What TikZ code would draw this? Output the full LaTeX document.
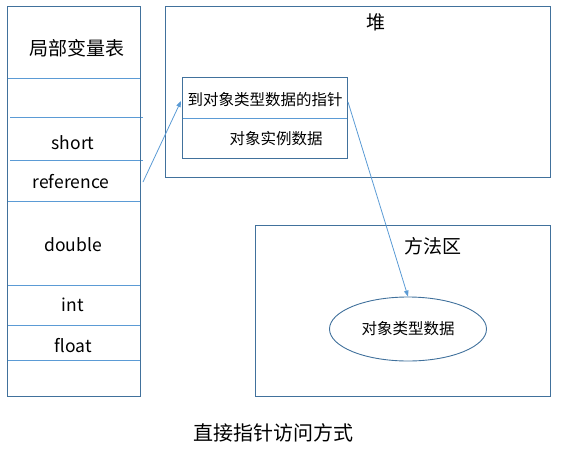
\documentclass[tikz,border=0pt]{standalone}
\usepackage{fontspec}
\setmainfont{Noto Sans CJK SC}
\usetikzlibrary{arrows.meta,shapes.geometric}
\definecolor{frame}{HTML}{41719C}
\definecolor{divline}{HTML}{5B9BD5}
\tikzset{
  box/.style={draw=frame, line width=0.9pt},
  div/.style={draw=divline, line width=0.8pt},
  lbl/.style={inner sep=0pt, text=black, font=\fontsize{17.5}{19}\selectfont},
  big/.style={inner sep=0pt, text=black, font=\fontsize{19}{21}\selectfont},
  small/.style={inner sep=0pt, text=black, font=\fontsize{15.5}{17}\selectfont},
  conn/.style={draw=divline, line width=0.8pt, -{Triangle[length=6pt,width=4.5pt]}},
}
\begin{document}
\begin{tikzpicture}[x=1pt,y=-1pt]
\useasboundingbox (0,0) rectangle (561,450);
% local variable table
\draw[div] (7,78) -- (140,78);
\draw[div] (10,117) -- (143,117);
\draw[div] (10,160) -- (143,160);
\draw[div] (7,201) -- (140,201);
\draw[div] (7,285) -- (140,285);
\draw[div] (7,325) -- (140,325);
\draw[div] (7,360) -- (140,360);
\draw[box] (7,6) rectangle (140,396);
\node[big] (lvt) at (77,48) {局部变量表};
\node[lbl] (short) at (73,143) {short};
\node[lbl] (ref) at (71,182) {reference};
\node[lbl] (dbl) at (73,245) {double};
\node[lbl] (int) at (73,305) {int};
\node[lbl] (flt) at (73,346) {float};
\coordinate (refR) at (143,182);
% heap
\draw[box] (165,6) rectangle (550,177);
\node[big] (heap) at (376,22) {堆};
\draw[div] (182,118) -- (347,118);
\draw[box] (182,77) rectangle (347,158);
\node[small] (ptr) at (265,100) {到对象类型数据的指针};
\node[small] (inst) at (276,139) {对象实例数据};
\coordinate (ptrL) at (181,101);
\coordinate (ptrR) at (348,102);
% method area
\draw[box] (255,225) rectangle (550,396);
\node[big] (method) at (433,246) {方法区};
\node[ellipse, box, minimum width=157pt, minimum height=64pt, inner sep=0pt, font=\fontsize{15.5}{17}\selectfont] (type) at (408,329) {对象类型数据};
% connectors
\draw[conn] (refR) -- (ptrL);
\draw[conn] (ptrR) -- (type.north);
% caption
\node[big, font=\fontsize{20}{22}\selectfont] (cap) at (273,433) {直接指针访问方式};
\end{tikzpicture}
\end{document}
